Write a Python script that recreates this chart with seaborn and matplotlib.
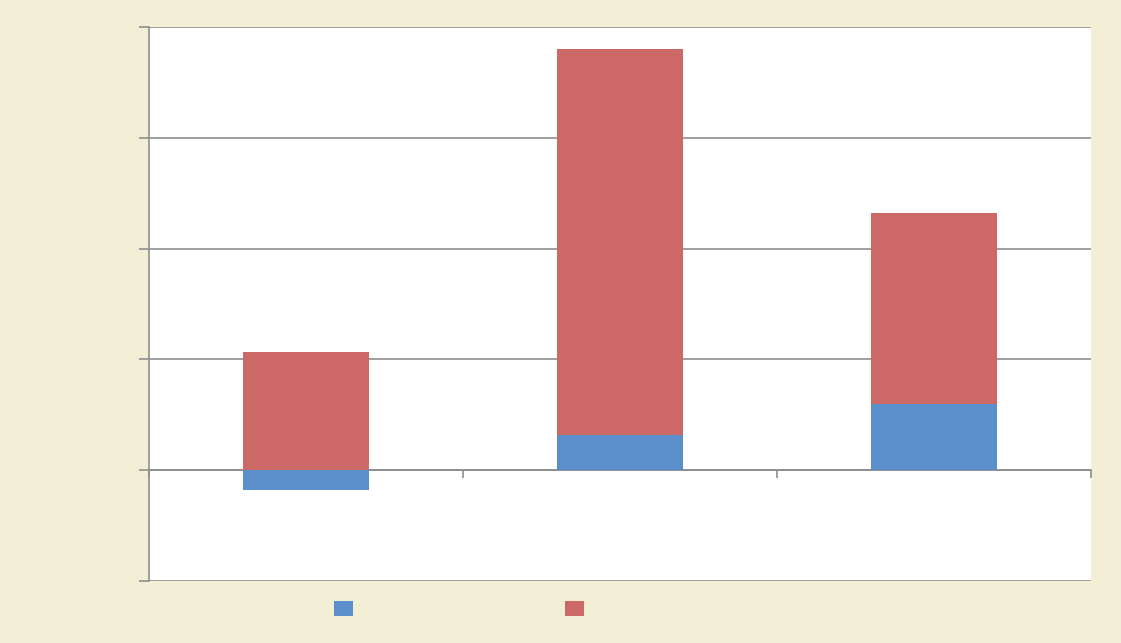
import numpy as np
import pandas as pd
import matplotlib
matplotlib.use("Agg")
import matplotlib.pyplot as plt
import seaborn as sns
from matplotlib.patches import Patch

categories = ["A", "B", "C"]
series1 = [-0.18, 0.315, 0.60]   # blue
series2 = [1.07, 3.49, 1.72]     # red
yticks = [-1, 0, 1, 2, 3, 4]

blue = "#5A8FCB"
red = "#CC6865"
bg = "#F3EED6"
grid_c = "#8E8E8E"

sns.set_style("white")
fig = plt.figure(figsize=(11.21, 6.43), dpi=100, facecolor=bg)
ax = fig.add_axes([149/1121, 1-581/643, (1091-149)/1121, (581-27)/643])
ax.set_facecolor("white")

total = np.maximum(np.array(series1), 0) + np.array(series2)
df = pd.DataFrame({"cat": categories, "s1": series1, "total": total})

sns.barplot(data=df, x="cat", y="total", color=red, saturation=1, width=0.4,
            ax=ax, zorder=2, linewidth=0)
sns.barplot(data=df, x="cat", y="s1", color=blue, saturation=1, width=0.4,
            ax=ax, zorder=3, linewidth=0)

ax.set_xlim(-0.5, 2.5)
ax.set_ylim(-1, 4)
ax.set_yticks(yticks)
ax.set_yticklabels([])
ax.set_xticks([-0.5, 0.5, 1.5, 2.5])
ax.set_xticklabels([])
ax.set_xlabel("")
ax.set_ylabel("")
ax.yaxis.grid(True, color=grid_c, linewidth=1.2)
ax.xaxis.grid(False)
ax.set_axisbelow(True)

for s in ["top", "right"]:
    ax.spines[s].set_visible(False)
ax.spines["left"].set_color(grid_c)
ax.spines["left"].set_linewidth(1.2)
ax.spines["bottom"].set_position(("data", 0))
ax.spines["bottom"].set_color(grid_c)
ax.spines["bottom"].set_linewidth(1.2)
ax.spines["bottom"].set_zorder(1.5)
ax.tick_params(axis="y", direction="out", length=7, width=1.2, color=grid_c, left=True)
ax.tick_params(axis="x", direction="out", length=6, width=1.2, color=grid_c, bottom=True)

handles = [Patch(facecolor=blue, edgecolor="none"), Patch(facecolor=red, edgecolor="none")]
fig.legend(handles, ["", ""], ncol=2, frameon=False, fontsize=12,
           handlelength=1.15, handleheight=1.0, handletextpad=0.8,
           columnspacing=11.9, loc="center",
           bbox_to_anchor=(465.5/1121, 1-609.5/643))

fig.savefig("out.png", dpi=100, facecolor=bg)
